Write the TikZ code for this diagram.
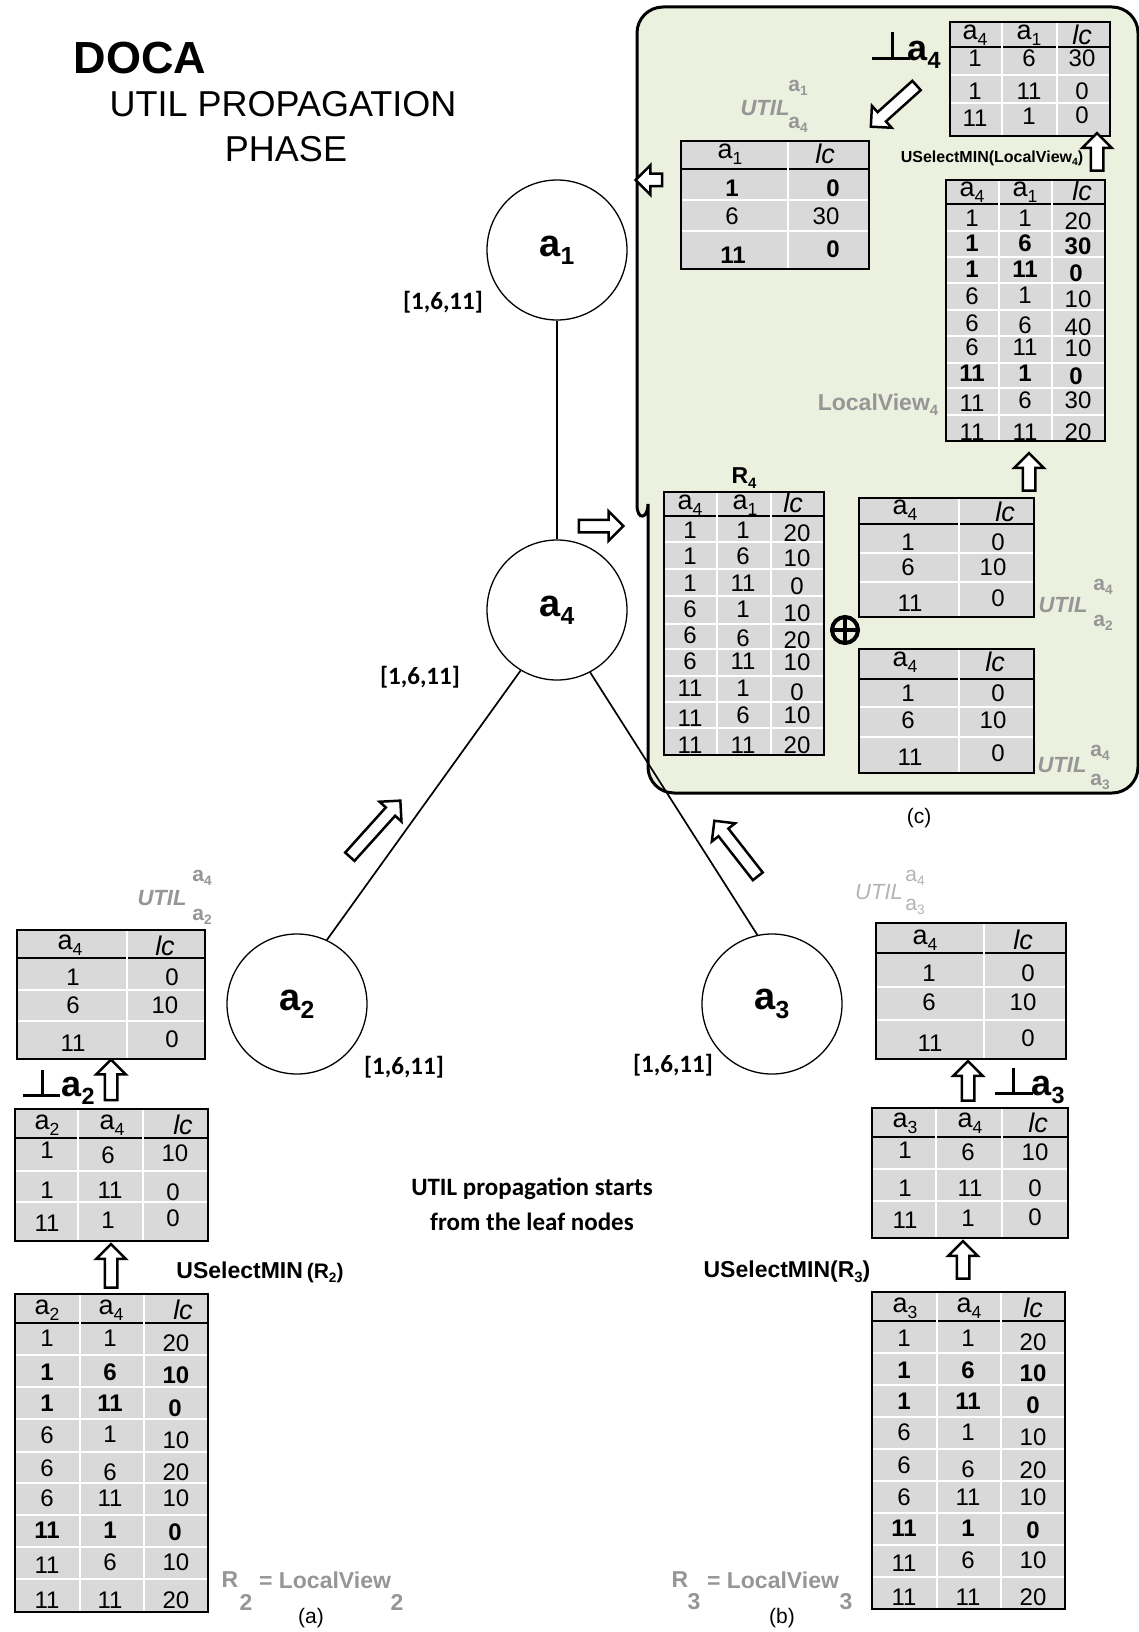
\documentclass[tikz,border=0pt]{standalone}
\usepackage{fontspec}
\setmainfont{Liberation Sans}
\newfontfamily\carl{Carlito}
\usepackage{graphicx}
\usetikzlibrary{shapes.arrows}
\definecolor{cellgray}{HTML}{D9D9D9}
\definecolor{panelgreen}{HTML}{EBF1DE}
\definecolor{lblgray}{HTML}{969696}
\definecolor{lightlbl}{HTML}{B4B4B4}
\newcommand\sbs[1]{\raisebox{-0.22em}{\scalebox{0.65}{#1}}}
\newcommand\B[1]{\textbf{#1}}
\newcommand\hd[1]{{\fontsize{27}{27}\selectfont #1}}
\newcounter{cc}
\newcommand\cel[3]{\stepcounter{cc}\node[cellt] (cell\arabic{cc}) at (#1,#2) {#3};}
\newcommand\trow[9]{\cel{#1}{#4}{#7}\cel{#2}{#5}{#8}\cel{#3}{#6}{#9}}
\newcommand\drow[6]{\cel{#1}{#3}{#5}\cel{#2}{#4}{#6}}
\newcommand\tgrid[7]{%
  \fill[cellgray] (#1,#3) rectangle (#2,#4);
  \draw[line width=2.2pt] (#1,#5) -- (#2,#5);
  \foreach \xx in {#6} {\draw[white,line width=1.6pt] (\xx,#3) -- (\xx,#4);}
  \foreach \yy in {#7} {\draw[white,line width=1.6pt] (#1,\yy) -- (#2,\yy);}
  \draw[line width=2.2pt] (#1,#3) rectangle (#2,#4);
}
\begin{document}
\begin{tikzpicture}[x=1pt,y=-1pt,
  cellt/.style={inner sep=0pt, font=\fontsize{24}{24}\selectfont},
  circ/.style={circle, draw, line width=1.3pt, minimum size=140pt, inner sep=0pt, fill=white, font=\bfseries\fontsize{38}{38}\selectfont},
  edge/.style={line width=1.7pt},
  harrow/.style={single arrow, draw, line width=2.5pt, fill=white, inner xsep=0pt, inner ysep=5pt, single arrow head extend=8.5pt, minimum width=27pt},
  dom/.style={font=\carl\bfseries\fontsize{25}{25}\selectfont, inner sep=0pt},
  glbl/.style={text=lblgray, font=\bfseries\fontsize{23}{23}\selectfont, inner sep=0pt},
  utl/.style={text=lblgray, font=\bfseries\itshape\fontsize{22}{22}\selectfont, inner sep=0pt},
  utls/.style={text=lblgray, font=\bfseries\fontsize{21}{21}\selectfont, inner sep=0pt},
  perp/.style={line width=3pt},
  capt/.style={font=\fontsize{21}{21}\selectfont, inner sep=0pt},
  bl/.style={inner sep=0pt}]
\useasboundingbox (0,0) rectangle (1139,1632);
\fill[white] (0,0) rectangle (1139,1632);

% panel (c)
\draw[line width=3pt, fill=panelgreen] (637,300) [rounded corners=26pt] -- (637,7) -- (1138,7)
  -- (1138,793) -- (648,793) -- (648,530) [sharp corners]
  .. controls (648,519) and (637,521) .. (637,505) -- cycle;

% graph
\node[circ] (a1) at (557,250) {a\sbs{1}};
\node[circ] (a4) at (557,610) {a\sbs{4}};
\node[circ] (a2) at (297,1004) {a\sbs{2}};
\node[circ] (a3) at (772,1004) {a\sbs{3}};
\draw[edge] (a1) -- (a4);
\draw[edge] (a4.239) -- (a2.65);
\draw[edge] (a4.298) -- (a3.102);

% title
\node[bl, font=\bfseries\fontsize{45}{45}\selectfont] (t1) at (140,58) {DOCA};
\node[bl, font=\fontsize{36}{36}\selectfont] (t2) at (283,104) {UTIL PROPAGATION};
\node[bl, font=\fontsize{36}{36}\selectfont] (t3) at (286,149) {PHASE};

% domains
\node[dom] (d1) at (443,302) {[1,6,11]};
\node[dom] (d4) at (420,677) {[1,6,11]};
\node[dom] (d2) at (404,1067) {[1,6,11]};
\node[dom] (d3) at (673,1065) {[1,6,11]};

\node[bl, font=\carl\bfseries\fontsize{25}{35}\selectfont, align=center] (note) at (532,1204) {UTIL propagation starts\\from the leaf nodes};

% ---- panel tables
\tgrid{950}{1110}{22}{136}{47}{1002,1057}{75,103}
\trow{975}{1029}{1082}{35}{35}{35}{\hd{a\sbs{4}}}{\hd{a\sbs{1}}}{\hd{\textit{lc}}}
\trow{975}{1029}{1082}{58}{58}{58}{1}{6}{30}
\trow{975}{1029}{1082}{91}{91}{91}{1}{11}{0}
\trow{975}{1029}{1082}{118}{116}{115}{11}{1}{0}

\tgrid{681}{869}{141}{269}{169}{788}{200,231}
\drow{730}{825}{154}{154}{\hd{a\sbs{1}}}{\hd{\textit{lc}}}
\drow{732}{833}{188}{188}{\B{1}}{\B{0}}
\drow{732}{826}{216}{216}{6}{30}
\drow{733}{833}{255}{249}{\B{11}}{\B{0}}

\tgrid{946}{1105}{180}{441}{204}{999,1052}{231,257,283,310,336,363,388,415}
\trow{972}{1025}{1082}{192}{192}{191}{\hd{a\sbs{4}}}{\hd{a\sbs{1}}}{\hd{\textit{lc}}}
\trow{972}{1025}{1078}{218}{218}{221}{1}{1}{20}
\trow{972}{1025}{1078}{243}{243}{246}{\B{1}}{\B{6}}{\B{30}}
\trow{972}{1025}{1076}{269}{269}{273}{\B{1}}{\B{11}}{\B{0}}
\trow{972}{1025}{1078}{296}{295}{299}{6}{1}{10}
\trow{972}{1025}{1078}{323}{325}{327}{6}{6}{40}
\trow{972}{1025}{1078}{347}{347}{348}{6}{11}{10}
\trow{972}{1025}{1076}{373}{373}{376}{\B{11}}{\B{1}}{\B{0}}
\trow{972}{1025}{1078}{403}{400}{400}{11}{6}{30}
\trow{972}{1025}{1078}{432}{432}{432}{11}{11}{20}

\tgrid{664}{824}{492}{755}{516}{717,771}{542,569,596,624,649,676,702,728}
\trow{690}{745}{793}{505}{505}{503}{\hd{a\sbs{4}}}{\hd{a\sbs{1}}}{\hd{\textit{lc}}}
\trow{690}{743}{797}{530}{530}{533}{1}{1}{20}
\trow{690}{743}{797}{556}{556}{558}{1}{6}{10}
\trow{690}{743}{797}{583}{583}{586}{1}{11}{0}
\trow{690}{743}{797}{609}{609}{613}{6}{1}{10}
\trow{690}{743}{797}{635}{638}{640}{6}{6}{20}
\trow{690}{743}{797}{661}{661}{662}{6}{11}{10}
\trow{690}{743}{797}{688}{688}{692}{11}{1}{0}
\trow{690}{743}{797}{718}{715}{715}{11}{6}{10}
\trow{690}{743}{797}{745}{745}{745}{11}{11}{20}

\tgrid{859}{1034}{498}{617}{524}{959}{553,582}
\drow{905}{1005}{510}{512}{\hd{a\sbs{4}}}{\hd{\textit{lc}}}
\drow{908}{998}{542}{542}{1}{0}
\drow{908}{993}{567}{567}{6}{10}
\drow{910}{998}{603}{598}{11}{0}

\tgrid{859}{1034}{649}{773}{679}{959}{707,737}
\drow{905}{995}{662}{662}{\hd{a\sbs{4}}}{\hd{\textit{lc}}}
\drow{908}{998}{693}{693}{1}{0}
\drow{908}{993}{720}{720}{6}{10}
\drow{910}{998}{757}{753}{11}{0}

\node[circle, draw, line width=4pt, minimum size=26pt, inner sep=0pt] (oplus) at (845,630) {};
\draw[line width=4pt] (oplus.north) -- (oplus.south) (oplus.west) -- (oplus.east);

% ---- left tables
\tgrid{17}{205}{930}{1059}{958}{127}{990,1021}
\drow{70}{165}{945}{946}{\hd{a\sbs{4}}}{\hd{\textit{lc}}}
\drow{73}{172}{977}{977}{1}{0}
\drow{73}{165}{1005}{1005}{6}{10}
\drow{73}{172}{1043}{1039}{11}{0}

\tgrid{15}{208}{1109}{1241}{1138}{78,143}{1171,1202}
\trow{47}{112}{183}{1125}{1125}{1125}{\hd{a\sbs{2}}}{\hd{a\sbs{4}}}{\hd{\textit{lc}}}
\trow{47}{108}{175}{1150}{1155}{1153}{1}{6}{10}
\trow{47}{110}{173}{1190}{1190}{1192}{1}{11}{0}
\trow{47}{108}{173}{1223}{1220}{1218}{11}{1}{0}

\tgrid{15}{208}{1294}{1612}{1323}{80,144}{1355,1387,1419,1452,1483,1515,1547,1579}
\trow{47}{111}{183}{1310}{1310}{1310}{\hd{a\sbs{2}}}{\hd{a\sbs{4}}}{\hd{\textit{lc}}}
\trow{47}{110}{176}{1338}{1338}{1343}{1}{1}{20}
\trow{47}{110}{176}{1372}{1372}{1375}{\B{1}}{\B{6}}{\B{10}}
\trow{47}{110}{175}{1403}{1403}{1408}{\B{1}}{\B{11}}{\B{0}}
\trow{47}{110}{176}{1435}{1434}{1440}{6}{1}{10}
\trow{47}{110}{176}{1468}{1472}{1472}{6}{6}{20}
\trow{47}{110}{176}{1498}{1498}{1498}{6}{11}{10}
\trow{47}{110}{175}{1530}{1530}{1532}{\B{11}}{\B{1}}{\B{0}}
\trow{47}{110}{176}{1565}{1562}{1562}{11}{6}{10}
\trow{47}{110}{176}{1600}{1600}{1600}{11}{11}{20}

% ---- right tables
\tgrid{876}{1066}{923}{1059}{953}{984}{987,1020}
\drow{925}{1023}{940}{940}{\hd{a\sbs{4}}}{\hd{\textit{lc}}}
\drow{929}{1028}{973}{973}{1}{0}
\drow{929}{1023}{1002}{1002}{6}{10}
\drow{930}{1028}{1043}{1038}{11}{0}

\tgrid{872}{1068}{1108}{1238}{1137}{936,1002}{1169,1201}
\trow{905}{970}{1038}{1123}{1123}{1123}{\hd{a\sbs{3}}}{\hd{a\sbs{4}}}{\hd{\textit{lc}}}
\trow{905}{968}{1035}{1150}{1152}{1152}{1}{6}{10}
\trow{905}{970}{1035}{1188}{1188}{1188}{1}{11}{0}
\trow{905}{968}{1035}{1220}{1218}{1217}{11}{1}{0}

\tgrid{872}{1065}{1292}{1609}{1321}{937,1001}{1353,1385,1417,1449,1481,1513,1545,1577}
\trow{905}{969}{1033}{1308}{1308}{1308}{\hd{a\sbs{3}}}{\hd{a\sbs{4}}}{\hd{\textit{lc}}}
\trow{904}{968}{1033}{1338}{1338}{1342}{1}{1}{20}
\trow{904}{968}{1033}{1370}{1370}{1373}{\B{1}}{\B{6}}{\B{10}}
\trow{904}{968}{1033}{1401}{1401}{1405}{\B{1}}{\B{11}}{\B{0}}
\trow{904}{968}{1033}{1432}{1432}{1437}{6}{1}{10}
\trow{904}{968}{1033}{1465}{1469}{1470}{6}{6}{20}
\trow{904}{968}{1033}{1497}{1497}{1497}{6}{11}{10}
\trow{904}{968}{1033}{1528}{1528}{1530}{\B{11}}{\B{1}}{\B{0}}
\trow{904}{968}{1033}{1563}{1560}{1560}{11}{6}{10}
\trow{904}{968}{1033}{1597}{1597}{1597}{11}{11}{20}

% ---- hollow arrows
\node[harrow, minimum height=26.5pt, rotate=180] (arL) at (652,180) {};
\node[harrow, minimum height=61.5pt, rotate=222] (arD) at (896,104) {};
\node[harrow, minimum height=37.5pt, rotate=90] (arU1) at (1097,155) {};
\node[harrow, minimum height=37.5pt, rotate=90] (arU2) at (1029,475) {};
\node[harrow, minimum height=44.5pt, rotate=0] (arR) at (598,526) {};
\node[harrow, minimum height=75.5pt, rotate=48] (arA2) at (373,831) {};
\node[harrow, minimum height=70.5pt, rotate=128] (arA3) at (738,851) {};
\node[harrow, minimum height=40.5pt, rotate=90] (arL1) at (111,1083) {};
\node[harrow, minimum height=43.5pt, rotate=90] (arL2) at (111,1269) {};
\node[harrow, minimum height=39.5pt, rotate=90] (arR1) at (968,1084) {};
\node[harrow, minimum height=37.5pt, rotate=90] (arR2) at (963,1263) {};

% ---- perp labels
\draw[perp] (872,59) -- (910,59) (892,32) -- (892,59);
\node[bl, font=\bfseries\fontsize{36}{36}\selectfont] (pa4) at (924,55) {a\sbs{4}};
\draw[perp] (23,1095) -- (60,1095) (42,1070) -- (42,1095);
\node[bl, font=\bfseries\fontsize{36}{36}\selectfont] (pa2) at (78,1091) {a\sbs{2}};
\draw[perp] (995,1093) -- (1033,1093) (1013,1068) -- (1013,1093);
\node[bl, font=\bfseries\fontsize{36}{36}\selectfont] (pa3) at (1048,1090) {a\sbs{3}};

% ---- operator labels
\node[bl, font=\bfseries\fontsize{23}{23}\selectfont] (us2) at (260,1272) {USelectMIN\,{\fontsize{21}{21}\selectfont(R\sbs{2})}};
\node[bl, font=\bfseries\fontsize{23}{23}\selectfont] (us3) at (787,1272) {USelectMIN(R\sbs{3})};
\node[bl, font=\bfseries\fontsize{16}{16}\selectfont] (us4) at (992,158) {USelectMIN(LocalView\sbs{4})};
\node[glbl] (lv4) at (878,405) {LocalView\sbs{4}};
\node[bl, font=\bfseries\fontsize{23}{23}\selectfont] (r4) at (744,478) {R\sbs{4}};

\node[glbl] (r2a) at (230,1580) {R};
\node[glbl] (r2b) at (246,1602) {2};
\node[glbl] (r2c) at (325,1580) {= LocalView};
\node[glbl] (r2d) at (397,1602) {2};
\node[glbl] (r3a) at (680,1580) {R};
\node[glbl] (r3b) at (694,1602) {3};
\node[glbl] (r3c) at (773,1580) {= LocalView};
\node[glbl] (r3d) at (846,1602) {3};

% ---- UTIL labels
\node[utl] (u1) at (765,108) {UTIL};
\node[utls] (u1s) at (798,88) {a\sbs{1}};
\node[utls] (u1b) at (798,125) {a\sbs{4}};
\node[utl] (u2) at (1063,605) {UTIL};
\node[utls] (u2s) at (1103,587) {a\sbs{4}};
\node[utls] (u2b) at (1103,623) {a\sbs{2}};
\node[utl] (u3) at (1062,765) {UTIL};
\node[utls] (u3s) at (1100,753) {a\sbs{4}};
\node[utls] (u3b) at (1100,782) {a\sbs{3}};
\node[utl] (u4) at (162,898) {UTIL};
\node[utls] (u4s) at (202,878) {a\sbs{4}};
\node[utls] (u4b) at (202,917) {a\sbs{2}};
\node[bl, text=lightlbl, font=\itshape\fontsize{22}{22}\selectfont] (u5) at (879,892) {UTIL};
\node[bl, text=lightlbl, font=\fontsize{21}{21}\selectfont] (u5s) at (915,878) {a\sbs{4}};
\node[bl, text=lightlbl, font=\fontsize{21}{21}\selectfont] (u5b) at (915,907) {a\sbs{3}};

% ---- captions
\node[capt] (ca) at (311,1618) {(a)};
\node[capt] (cb) at (782,1618) {(b)};
\node[capt] (cc) at (919,818) {(c)};
\end{tikzpicture}
\end{document}
